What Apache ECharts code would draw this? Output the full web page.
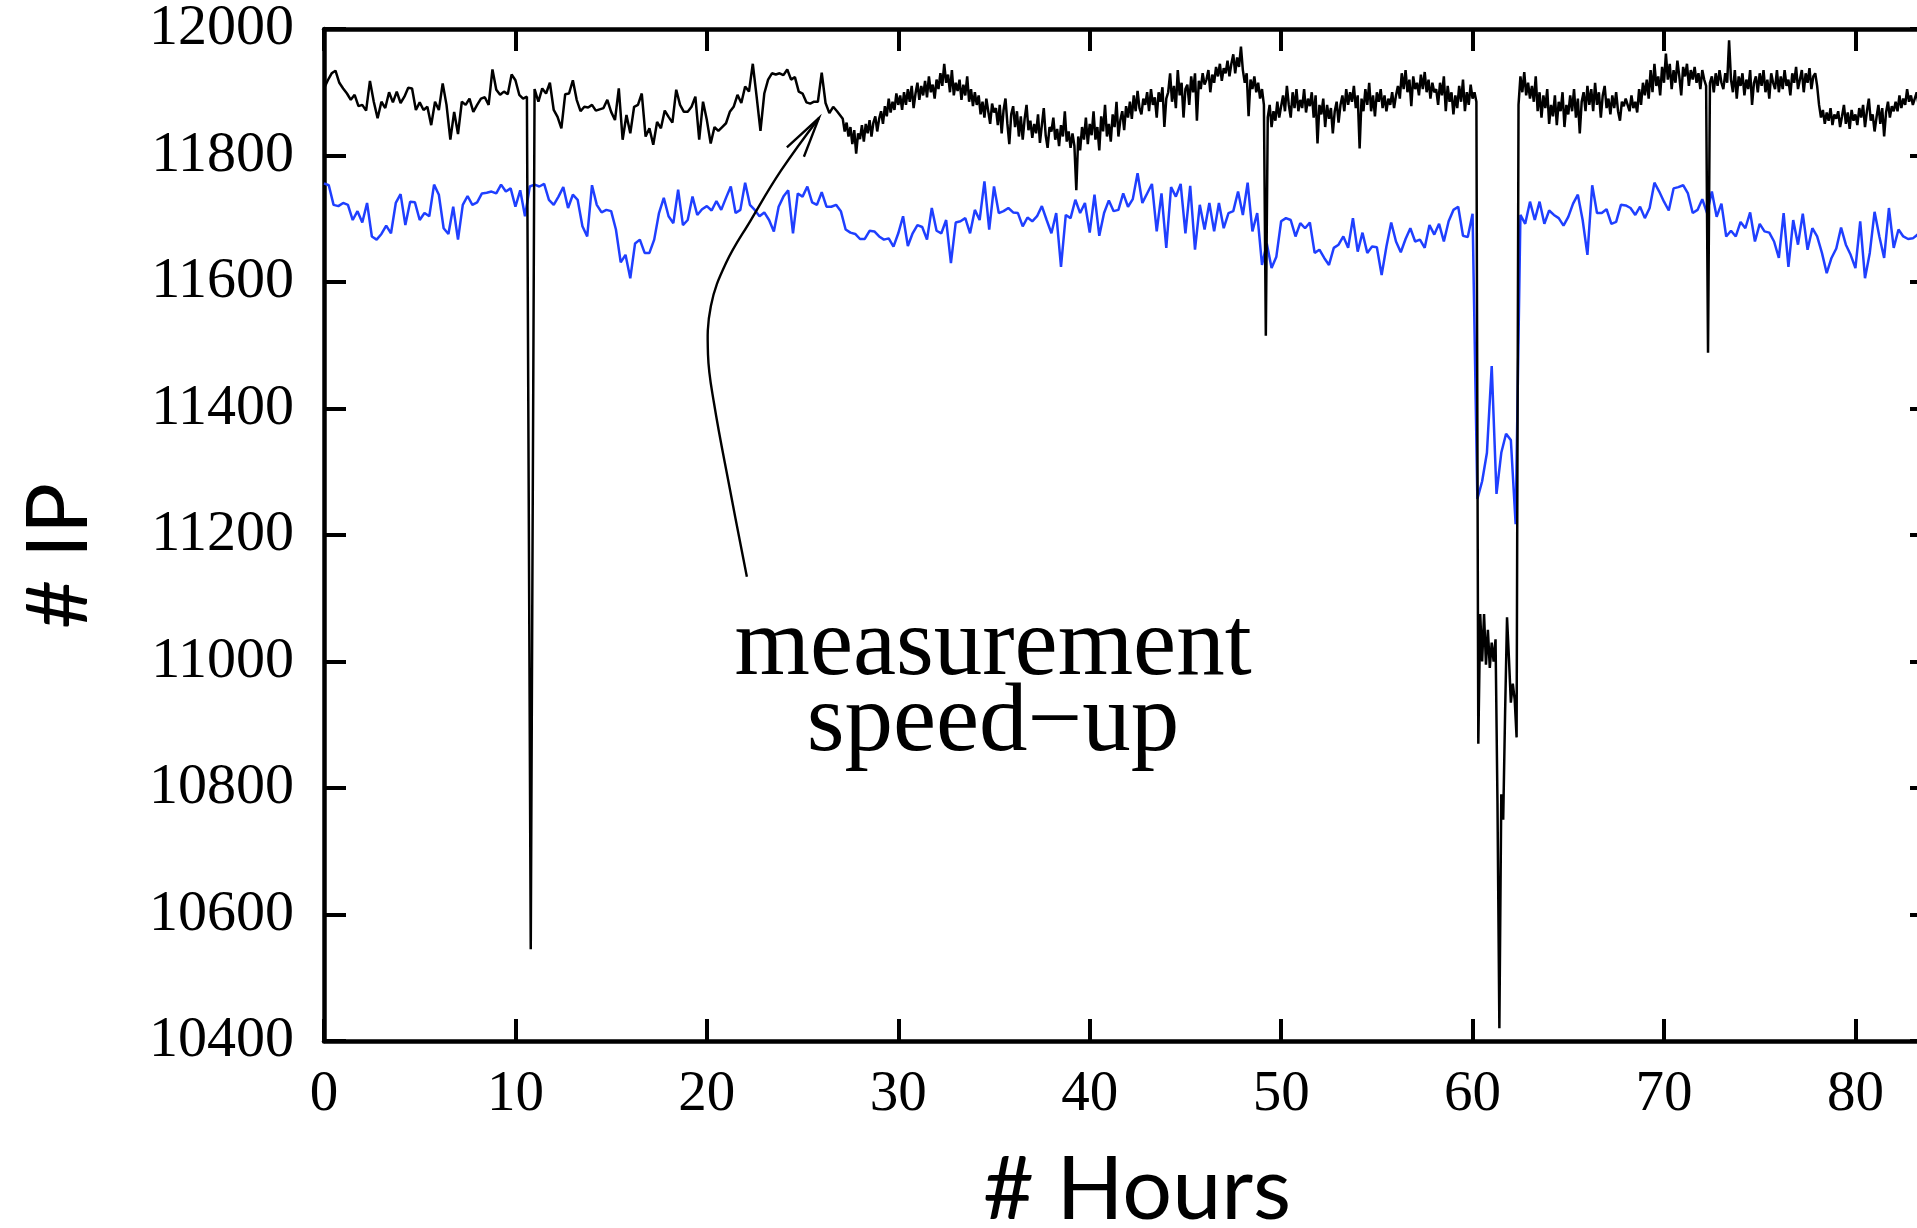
<!DOCTYPE html>
<html>
<head>
<meta charset="utf-8">
<script src="https://cdn.jsdelivr.net/npm/echarts/dist/echarts.min.js"></script>
<style>
html,body{margin:0;padding:0;background:#fff;}
#c{width:1917px;height:1228px;}
</style>
</head>
<body>
<div id="c"></div>
<script>
// ---------------- data ----------------
const xTickValues = [0, 10, 20, 30, 40, 50, 60, 70, 80];
const yTickValues = [10400, 10600, 10800, 11000, 11200, 11400, 11600, 11800, 12000];

// black series, first part: one sample every 0.2 h from 0 h to 27 h
const blackSlowStart = 0;
const blackSlowStep = 0.2;
const blackSlow = [
11906,11919,11930,11934,11915,11906,11898,11888,11896,11878,
11880,11871,11918,11885,11859,11885,11875,11900,11884,11901,
11883,11893,11907,11906,11872,11884,11872,11877,11848,11885,
11872,11914,11880,11825,11869,11834,11885,11880,11890,11869,
11880,11890,11892,11880,11936,11904,11896,11901,11897,11928,
11919,11896,11890,11893,10545,11905,11885,11906,11898,11915,
11872,11861,11843,11897,11898,11919,11888,11870,11877,11876,
11880,11871,11873,11875,11888,11869,11856,11906,11825,11864,
11835,11877,11880,11898,11830,11843,11817,11853,11843,11871,
11861,11852,11904,11880,11869,11869,11877,11893,11825,11885,
11856,11819,11845,11839,11845,11851,11869,11877,11896,11883,
11909,11901,11945,11893,11839,11898,11920,11930,11928,11930,
11927,11936,11920,11924,11901,11898,11884,11882,11885,11885,
11931,11883,11867,11877,11870,11862
];

// black series after the measurement speed-up: one sample every 0.1 h from 27.1 h
const blackFastStart = 27.1;
const blackFastStep = 0.1;
const blackFast = [
11858,11838,11852,11830,11845,11818,11840,11803,11835,11826,
11848,11822,11850,11835,11856,11830,11852,11862,11838,11858,
11870,11850,11878,11862,11890,11868,11885,11872,11898,11880,
11895,11872,11900,11880,11905,11885,11910,11875,11898,11915,
11888,11910,11895,11918,11892,11925,11900,11912,11890,11920,
11905,11930,11910,11945,11915,11928,11900,11935,11895,11915,
11902,11920,11888,11912,11895,11925,11885,11905,11878,11900,
11880,11895,11865,11885,11860,11890,11870,11850,11882,11868,
11875,11848,11880,11835,11872,11890,11850,11818,11865,11878,
11845,11870,11830,11862,11825,11858,11880,11840,11855,11828,
11850,11835,11865,11820,11848,11875,11832,11812,11845,11838,
11860,11825,11842,11815,11848,11830,11870,11822,11838,11812,
11835,11815,11745,11830,11808,11845,11825,11860,11818,11850,
11832,11870,11825,11845,11808,11862,11838,11880,11830,11850,
11822,11865,11845,11885,11830,11856,11870,11840,11878,11860,
11885,11858,11895,11870,11902,11875,11865,11890,11880,11900,
11870,11905,11880,11892,11860,11900,11885,11908,11845,11890,
11900,11930,11885,11910,11875,11935,11895,11915,11860,11905,
11912,11880,11925,11900,11930,11855,11918,11905,11930,11912,
11920,11935,11900,11928,11915,11940,11925,11945,11918,11938,
11930,11950,11925,11945,11960,11930,11955,11940,11972,11935,
11915,11930,11862,11920,11905,11925,11900,11915,11890,11905,
11880,11515,11860,11880,11845,11870,11855,11885,11860,11878,
11895,11870,11910,11880,11860,11900,11875,11905,11870,11888,
11875,11905,11868,11890,11878,11900,11860,11895,11819,11880,
11865,11890,11845,11880,11858,11875,11835,11870,11885,11852,
11880,11895,11870,11905,11880,11900,11885,11910,11875,11895,
11811,11890,11870,11905,11880,11915,11870,11895,11862,11900,
11885,11905,11875,11895,11870,11890,11880,11900,11875,11895,
11910,11890,11930,11905,11935,11900,11920,11878,11925,11905,
11915,11895,11928,11905,11932,11900,11920,11890,11915,11900,
11905,11880,11915,11895,11925,11870,11910,11885,11900,11865,
11895,11875,11910,11885,11920,11870,11900,11880,11912,11890,
11900,11885,10870,11075,11000,11075,10995,11050,10990,11030,
11000,11035,10780,10420,10790,10750,10920,11070,11005,10935,
10965,10940,10880,11880,11925,11900,11932,11895,11915,11890,
11910,11885,11925,11870,11900,11860,11895,11875,11905,11850,
11880,11862,11895,11848,11885,11870,11900,11845,11880,11865,
11895,11870,11905,11860,11890,11835,11885,11900,11870,11910,
11880,11905,11870,11915,11880,11900,11860,11895,11910,11875,
11890,11865,11895,11875,11900,11870,11855,11885,11878,11890,
11880,11870,11895,11875,11885,11868,11905,11880,11915,11895,
11920,11890,11935,11900,11945,11910,11925,11895,11940,11915,
11961,11920,11945,11905,11935,11915,11950,11925,11895,11940,
11925,11945,11910,11935,11920,11940,11915,11930,11905,11935,
11920,11910,11488,11915,11925,11900,11930,11910,11935,11915,
11905,11930,11915,11982,11920,11900,11935,11890,11925,11910,
11930,11895,11920,11905,11935,11880,11915,11925,11900,11930,
11910,11935,11900,11920,11890,11930,11915,11905,11935,11900,
11925,11905,11935,11910,11920,11895,11930,11915,11940,11905,
11920,11935,11900,11930,11915,11938,11905,11925,11930,11910,
11880,11860,11872,11850,11868,11855,11875,11848,11865,11858,
11870,11845,11862,11880,11850,11868,11842,11872,11855,11865,
11848,11875,11860,11880,11845,11870,11890,11855,11865,11838,
11860,11880,11850,11875,11830,11868,11885,11860,11878,11870,
11885,11870,11895,11875,11890,11880,11905,11885,11895,11880,
11890,11900,11880,11905,11885,11895,11878,11900,11890,11895
];

// blue series: one sample every 0.25 h from 0 h
const blueStart = 0;
const blueStep = 0.25;
const blue = [
11756,11753,11722,11720,11725,11722,11698,11712,11694,11725,
11672,11667,11676,11689,11677,11725,11739,11690,11727,11726,
11698,11709,11704,11754,11738,11685,11676,11719,11667,11722,
11736,11722,11726,11740,11741,11743,11740,11754,11743,11748,
11719,11745,11704,11751,11754,11751,11755,11730,11722,11735,
11750,11717,11738,11730,11688,11672,11753,11722,11710,11714,
11712,11683,11631,11643,11606,11661,11667,
11646,11646,11667,11709,11733,11704,11693,11746,11690,11698,
11735,11706,11715,11720,11713,11728,11714,11733,11751,11709,
11714,11757,11722,11714,11704,11710,11698,11680,11719,11735,
11745,11677,11740,11735,11751,11726,11722,11742,11719,11719,
11722,11712,11683,11678,11676,11668,11668,11681,11680,11672,
11667,11669,11656,11677,11704,11657,11677,11690,11687,11667,
11717,11681,11677,11698,11630,11694,11696,
11701,11677,11714,11698,11759,11683,11751,11709,11712,11717,
11710,11709,11688,11702,11696,11704,11720,11698,11677,11709,
11624,11706,11701,11730,11709,11725,11678,11738,11673,11709,
11729,11712,11714,11740,11719,11731,11772,11725,11740,11755,
11680,11740,11654,11750,11735,11755,11677,11752,11651,11722,
11683,11725,11680,11725,11685,11709,11712,11743,11706,11757,
11680,11709,11627,11661,11622,11640,11696,
11701,11698,11672,11693,11685,11694,11646,11651,11638,11627,
11654,11659,11672,11654,11701,11648,11678,11646,11656,11655,
11611,11656,11694,11664,11647,11668,11685,11664,11667,11654,
11690,11675,11692,11664,11696,11714,11719,11673,11671,11708,
11257,11285,11330,11467,11265,11330,11360,11350,11217,
11706,11692,11727,11698,11727,11692,11713,11706,11701,11689,
11703,11724,11738,11698,11643,11753,11709,
11709,11715,11692,11695,11722,11721,11717,11706,11719,11701,
11717,11757,11743,11727,11713,11748,11750,11753,11740,11709,
11714,11731,11709,11743,11703,11724,11672,11681,11672,11695,
11685,11710,11664,11692,11680,11678,11664,11638,11709,11624,
11698,11659,11708,11651,11685,11672,11646,11614,11638,11653,
11686,11659,11643,11622,11696,11606,11646,11711,11672,11638,
11717,11654,11683,11672,11668,11669,
11675,11665,11680,11672
];

// annotation (in data units: hours, #IP)
const annotationLines = ['measurement', 'speed\u2212up'];
const annotationAnchor = [34.95, 10960];
const arrowCurve = [[22.09,11134],[21.20,11273],[20.37,11409],[20.06,11485],[20.21,11562],[21.00,11630],[22.30,11698],[23.87,11776],[25.85,11859]];
const arrowHead = [[24.18,11813],[25.85,11859],[25.07,11798]];

// ---------------- chart ----------------
function toPairs(start, step, arr) {
  return arr.map((v, i) => [Math.round((start + i * step) * 1000) / 1000, v]);
}
const blackData = toPairs(blackSlowStart, blackSlowStep, blackSlow)
  .concat(toPairs(blackFastStart, blackFastStep, blackFast));
const blueData = toPairs(blueStart, blueStep, blue);

const serif = '"Liberation Serif", "Times New Roman", serif';
const sans = 'Lato, "Open Sans", sans-serif';

const chart = echarts.init(document.getElementById('c'), null, {renderer: 'canvas'});

const axisLine = {show: true, onZero: false, lineStyle: {color: '#000', width: 4.5}};
const axisTick = {show: true, inside: true, length: 22, lineStyle: {color: '#000', width: 4}};

const option = {
  animation: false,
  backgroundColor: '#ffffff',
  grid: {left: 324, top: 29, width: 1608, height: 1012, containLabel: false, outerBoundsMode: 'none'},
  xAxis: [{
    type: 'value', min: 0, max: 84, interval: 10, position: 'bottom',
    axisLine: axisLine, axisTick: axisTick, splitLine: {show: false},
    axisLabel: {show: true, showMaxLabel: false, margin: 26, color: '#000', fontFamily: serif, fontSize: 57,
      formatter: v => (xTickValues.indexOf(v) >= 0 ? String(v) : '')},
    name: '# Hours', nameLocation: 'middle', nameGap: 106,
    nameTextStyle: {fontFamily: sans, fontSize: 88, color: '#000', padding: [0, 0, 0, 18]}
  }, {
    type: 'value', min: 0, max: 84, interval: 10, position: 'top',
    axisLine: axisLine, axisTick: axisTick, splitLine: {show: false},
    axisLabel: {show: false}
  }],
  yAxis: [{
    type: 'value', min: 10400, max: 12000, interval: 200, position: 'left',
    axisLine: axisLine, axisTick: axisTick, splitLine: {show: false},
    axisLabel: {show: true, margin: 30, color: '#000', fontFamily: serif, fontSize: 58,
      formatter: v => (yTickValues.indexOf(v) >= 0 ? String(v) : '')},
    name: '# IP', nameLocation: 'middle', nameGap: 222, nameRotate: 90,
    nameTextStyle: {fontFamily: sans, fontSize: 85, color: '#000', padding: [0, 42, 0, 0]}
  }, {
    type: 'value', min: 10400, max: 12000, interval: 200, position: 'right',
    axisLine: axisLine, axisTick: axisTick, splitLine: {show: false},
    axisLabel: {show: false}
  }],
  series: [{
    name: 'blue', type: 'line', xAxisIndex: 0, yAxisIndex: 0,
    data: blueData, showSymbol: false, symbol: 'none', sampling: null,
    lineStyle: {color: '#1f3fff', width: 2.5}, z: 2
  }, {
    name: 'black', type: 'line', xAxisIndex: 0, yAxisIndex: 0,
    data: blackData, showSymbol: false, symbol: 'none', sampling: null,
    lineStyle: {color: '#000000', width: 2.5}, z: 3
  }]
};
chart.setOption(option);

function px(p) { return chart.convertToPixel({xAxisIndex: 0, yAxisIndex: 0}, p); }
const tc = px(annotationAnchor);
chart.setOption({
  graphic: [{
    type: 'polyline', z: 10,
    shape: {points: arrowCurve.map(px), smooth: 0.4},
    style: {stroke: '#000', lineWidth: 2.4, fill: null}
  }, {
    type: 'polyline', z: 10,
    shape: {points: arrowHead.map(px)},
    style: {stroke: '#000', lineWidth: 2.4, fill: null}
  }, {
    type: 'text', z: 10, x: tc[0], y: tc[1],
    style: {text: annotationLines.join('\n'), fontFamily: serif, fontSize: 97, lineHeight: 76,
      fill: '#000', align: 'center', verticalAlign: 'middle'}
  }]
});
</script>
</body>
</html>
